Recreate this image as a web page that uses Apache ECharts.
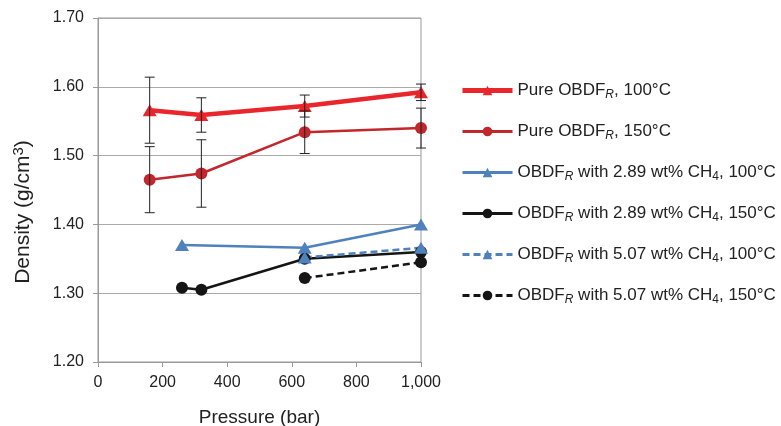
<!DOCTYPE html>
<html>
<head>
<meta charset="utf-8">
<script src="https://cdn.jsdelivr.net/npm/echarts@6/dist/echarts.min.js"></script>
<style>
  html, body { margin: 0; padding: 0; background: #fff; }
  #chart { width: 781px; height: 426px; }
</style>
</head>
<body>
<div id="chart"></div>
<script>
// Density of OBDF_R samples vs pressure
const pure100X = [160, 320, 640, 1000];
const pure100Y = [1.566, 1.559, 1.572, 1.592];
const pure100Err = [0.048, 0.025, 0.016, 0.012];

const pure150X = [160, 320, 640, 1000];
const pure150Y = [1.465, 1.474, 1.534, 1.540];
const pure150Err = [0.048, 0.049, 0.031, 0.029];

const ch4a100X = [260, 640, 1000];
const ch4a100Y = [1.370, 1.366, 1.400];

const ch4a150X = [260, 320, 640, 1000];
const ch4a150Y = [1.308, 1.305, 1.350, 1.360];

const ch4b100X = [640, 1000];
const ch4b100Y = [1.352, 1.366];

const ch4b150X = [640, 1000];
const ch4b150Y = [1.322, 1.345];

const xTicks = [0, 200, 400, 600, 800, 1000];
const yTicks = [1.20, 1.30, 1.40, 1.50, 1.60, 1.70];

const names = [
  'Pure OBDF{sub|R}, 100°C',
  'Pure OBDF{sub|R}, 150°C',
  'OBDF{sub|R} with 2.89 wt% CH{n|4}, 100°C',
  'OBDF{sub|R} with 2.89 wt% CH{n|4}, 150°C',
  'OBDF{sub|R} with 5.07 wt% CH{n|4}, 100°C',
  'OBDF{sub|R} with 5.07 wt% CH{n|4}, 150°C'
];
const colors = ['#e8262b', '#c1272d', '#4f81bd', '#151515', '#4f81bd', '#151515'];
const widths = [4.5, 2.5, 2.5, 2.5, 2.5, 2.5];

const pair = (xs, ys) => xs.map((x, i) => [x, ys[i]]);

function errorSeries(xs, ys, errs) {
  return {
    type: 'custom',
    z: 10,
    silent: true,
    data: xs.map((x, i) => [x, ys[i] - errs[i], ys[i] + errs[i]]),
    renderItem: function (params, api) {
      const lo = api.coord([api.value(0), api.value(1)]);
      const hi = api.coord([api.value(0), api.value(2)]);
      const w = 5;
      const style = { stroke: '#222', lineWidth: 1 };
      return {
        type: 'group',
        children: [
          { type: 'line', shape: { x1: lo[0], y1: lo[1], x2: hi[0], y2: hi[1] }, style },
          { type: 'line', shape: { x1: lo[0] - w, y1: lo[1], x2: lo[0] + w, y2: lo[1] }, style },
          { type: 'line', shape: { x1: hi[0] - w, y1: hi[1], x2: hi[0] + w, y2: hi[1] }, style }
        ]
      };
    }
  };
}

function lineSeries(idx, data, symbol, size, dashed) {
  return {
    name: names[idx],
    type: 'line',
    data: data,
    symbol: symbol,
    symbolSize: size,
    showSymbol: true,
    z: 5,
    lineStyle: { color: colors[idx], width: widths[idx], type: dashed ? [7, 4] : 'solid' },
    itemStyle: { color: colors[idx], borderWidth: 0 }
  };
}

const chart = echarts.init(document.getElementById('chart'), null, { renderer: 'canvas' });
const font = '"Liberation Sans", Arial, sans-serif';
const tri = [14, 12];
const dot = 12;

chart.setOption({
  animation: false,
  textStyle: { fontFamily: font },
  grid: { left: 98, right: 360, top: 18, bottom: 64, show: true, borderColor: '#999', borderWidth: 1,
    containLabel: false, outerBoundsMode: 'none' },
  xAxis: {
    type: 'value',
    min: xTicks[0], max: xTicks[xTicks.length - 1], interval: 200,
    name: 'Pressure (bar)',
    nameLocation: 'middle',
    nameGap: 46,
    nameTextStyle: { fontSize: 19, color: '#222', fontFamily: font },
    axisLine: { show: true, onZero: false, lineStyle: { color: '#999' } },
    axisTick: { show: true, length: 5, lineStyle: { color: '#999' } },
    axisLabel: { fontSize: 16, color: '#222', fontFamily: font, margin: 13,
      formatter: v => v >= 1000 ? v.toLocaleString('en-US') : String(v) },
    splitLine: { show: false }
  },
  yAxis: {
    type: 'value',
    min: yTicks[0], max: yTicks[yTicks.length - 1], interval: 0.1,
    name: 'Density (g/cm{sup|3})',
    nameLocation: 'middle',
    nameGap: 62,
    nameRotate: 90,
    nameTextStyle: { fontSize: 21, color: '#222', fontFamily: font, padding: [0, 44, 0, 0],
      rich: { sup: { fontSize: 15, verticalAlign: 'top', padding: [0, 0, 10, 0], color: '#222', fontFamily: font } } },
    axisLine: { show: true, lineStyle: { color: '#999' } },
    axisTick: { show: true, length: 5, lineStyle: { color: '#999' } },
    axisLabel: { fontSize: 16, color: '#222', fontFamily: font, margin: 14, formatter: v => v.toFixed(2) },
    splitLine: { show: true, lineStyle: { color: '#aaa', width: 1 } }
  },
  legend: {
    orient: 'vertical',
    left: 455,
    top: 77,
    itemWidth: 50,
    itemHeight: 12,
    itemGap: 22,
    data: names.map((n, i) => ({ name: n, lineStyle: { width: widths[i] + 0.5 } })),
    formatter: n => n,
    textStyle: {
      fontSize: 17, color: '#222', fontFamily: font,
      rich: {
        sub: { fontSize: 12, fontStyle: 'italic', padding: [9, 0, 0, 0], color: '#222', fontFamily: font },
        n: { fontSize: 12, padding: [9, 0, 0, 0], color: '#222', fontFamily: font }
      }
    }
  },
  series: [
    lineSeries(0, pair(pure100X, pure100Y), 'triangle', tri, false),
    lineSeries(1, pair(pure150X, pure150Y), 'circle', dot, false),
    lineSeries(2, pair(ch4a100X, ch4a100Y), 'triangle', tri, false),
    lineSeries(3, pair(ch4a150X, ch4a150Y), 'circle', dot, false),
    lineSeries(4, pair(ch4b100X, ch4b100Y), 'triangle', tri, true),
    lineSeries(5, pair(ch4b150X, ch4b150Y), 'circle', dot, true),
    errorSeries(pure100X, pure100Y, pure100Err),
    errorSeries(pure150X, pure150Y, pure150Err)
  ]
});
</script>
</body>
</html>
